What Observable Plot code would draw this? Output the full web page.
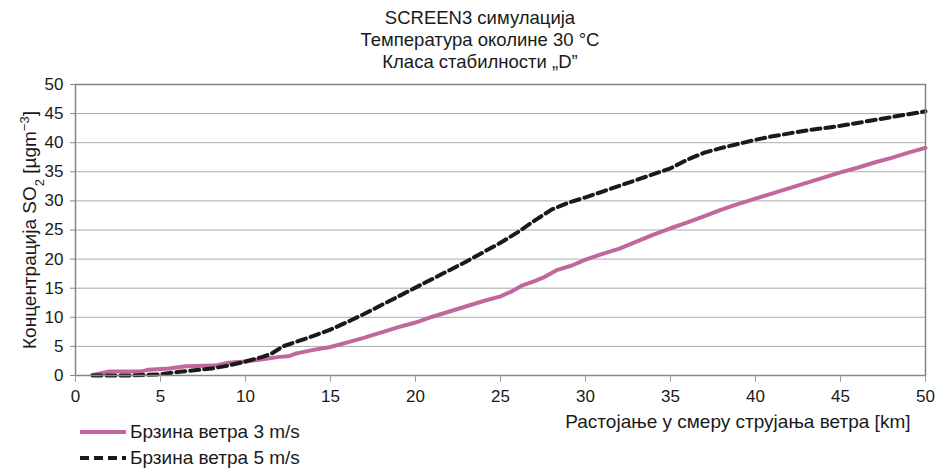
<!DOCTYPE html>
<html>
<head>
<meta charset="utf-8">
<script src="https://cdn.jsdelivr.net/npm/d3@7"></script>
<script src="https://cdn.jsdelivr.net/npm/@observablehq/plot@0.6"></script>
<style>
  body { margin: 0; background: #fff; }
  #wrap { position: relative; width: 937px; height: 468px; font-family: "Liberation Sans", Arial, sans-serif; color: #1a1a1a; }
  #title { box-sizing: border-box; width: 937px; padding: 7px 0 0 23px; height: 73px; text-align: center; font-size: 18.5px; line-height: 22px; }
  #legend { position: absolute; left: 80px; top: 419px; font-size: 19px; }
  .row { display: flex; align-items: center; height: 26px; }
  .row svg { margin-right: 4px; }
</style>
</head>
<body>
<div id="wrap">
  <div id="title"></div>
  <div id="chart"></div>
  <div id="legend"></div>
</div>
<script>
const titleLines = ["SCREEN3 симулација", "Температура околине 30 °C", "Класа стабилности „D”"];
const yLabel = "Концентрација SO₂ [µgm⁻³]";
const xLabel = "Растојање у смеру струјања ветра [km]";
const seriesNames = ["Брзина ветра 3 m/s", "Брзина ветра 5 m/s"];
const ticks = [0, 5, 10, 15, 20, 25, 30, 35, 40, 45, 50];

// Брзина ветра 3 m/s
const km3 = [1, 2, 3.9, 4.3, 5.5, 6.5, 8.2, 9, 10, 11, 12, 12.5, 13, 14, 15, 16, 17, 18, 19, 20, 21, 22, 23, 24, 25, 25.7, 26.3, 27, 27.5, 28.3, 29.2, 30, 31, 32, 33, 34, 35, 36, 37, 38, 39, 40, 41, 42, 43, 44, 45, 46, 47, 48, 49, 50];
const conc3 = [0.1, 0.7, 0.7, 1.0, 1.2, 1.6, 1.7, 2.2, 2.4, 2.8, 3.2, 3.3, 3.8, 4.4, 4.9, 5.7, 6.5, 7.4, 8.3, 9.1, 10.1, 11.0, 11.9, 12.8, 13.6, 14.5, 15.5, 16.2, 16.8, 18.1, 18.9, 19.9, 20.9, 21.8, 23.0, 24.2, 25.3, 26.3, 27.4, 28.5, 29.5, 30.4, 31.3, 32.2, 33.1, 34.0, 34.9, 35.7, 36.6, 37.4, 38.3, 39.1];

// Брзина ветра 5 m/s
const km5 = [1, 2, 3, 4, 5, 6, 7, 8, 9, 10, 11, 11.5, 12.2, 13, 14, 15, 16, 17, 18, 19, 20, 21, 22, 23, 24, 25, 26, 27, 28, 28.5, 29, 30, 31, 32, 33, 34, 35, 36, 37, 38, 39, 40, 41, 42, 43, 44, 45, 46, 47, 48, 49, 50];
const conc5 = [0, 0, 0, 0.1, 0.2, 0.6, 0.9, 1.2, 1.7, 2.4, 3.2, 3.7, 5.0, 5.8, 6.8, 7.9, 9.2, 10.6, 12.1, 13.6, 15.1, 16.6, 18.1, 19.6, 21.2, 22.8, 24.6, 26.6, 28.5, 29.1, 29.7, 30.6, 31.6, 32.6, 33.6, 34.6, 35.6, 37.1, 38.3, 39.1, 39.8, 40.5, 41.1, 41.6, 42.1, 42.5, 42.9, 43.4, 43.9, 44.4, 44.9, 45.4];

const colors = ["#c0679e", "#1a1a1a"];
const dash = "9,5";

document.getElementById("title").innerHTML = titleLines.join("<br>");

const data3 = km3.map((x, i) => ({x, y: conc3[i]}));
const data5 = km5.map((x, i) => ({x, y: conc5[i]}));

const chart = Plot.plot({
  width: 937,
  height: 395,
  marginTop: 11,
  marginLeft: 75,
  marginRight: 12,
  marginBottom: 93,
  style: { fontFamily: '"Liberation Sans", Arial, sans-serif', fontSize: "17px", color: "#1a1a1a", background: "#fff" },
  x: { domain: [0, 50] },
  y: { domain: [0, 50] },
  marks: [
    Plot.gridY(ticks, { stroke: "#a8acaf", strokeOpacity: 1, strokeWidth: 1 }),
    Plot.line(data3, { x: "x", y: "y", stroke: colors[0], strokeWidth: 4 }),
    Plot.line(data5, { x: "x", y: "y", stroke: colors[1], strokeWidth: 4, strokeDasharray: dash }),
    Plot.frame({ stroke: "#80878b", strokeWidth: 1.5 }),
    Plot.axisX(ticks, { tickSize: 7, tickPadding: 7, stroke: "#9a9fa3", fill: "#1a1a1a", label: null }),
    Plot.axisY(ticks, { tickSize: 5, tickPadding: 7, stroke: "#80878b", fill: "#1a1a1a", label: yLabel, labelAnchor: "center", labelArrow: "none", labelOffset: 53 }),
    Plot.text([xLabel], { text: d => d, frameAnchor: "bottom-right", textAnchor: "end", dx: -15, dy: 52, fontSize: 19, fill: "#1a1a1a" })
  ]
});
document.getElementById("chart").appendChild(chart);

// render the y label with real subscript / superscript
d3.select(chart).selectAll("text").filter(function () { return this.textContent === yLabel; })
  .each(function () {
    const t = d3.select(this);
    t.attr("font-size", 19).text(null);
    t.append("tspan").text("Концентрација SO");
    t.append("tspan").attr("baseline-shift", "sub").attr("font-size", 13).text("2");
    t.append("tspan").text(" [µgm");
    t.append("tspan").attr("baseline-shift", "super").attr("font-size", 13).text("−3");
    t.append("tspan").text("]");
  });

const legend = document.getElementById("legend");
seriesNames.forEach((name, i) => {
  const row = document.createElement("div");
  row.className = "row";
  row.innerHTML = `<svg width="46" height="10"><line x1="0" y1="5" x2="46" y2="5" stroke="${colors[i]}" stroke-width="4" ${i === 1 ? `stroke-dasharray="${dash}"` : ""}/></svg><span>${name}</span>`;
  legend.appendChild(row);
});
</script>
</body>
</html>
